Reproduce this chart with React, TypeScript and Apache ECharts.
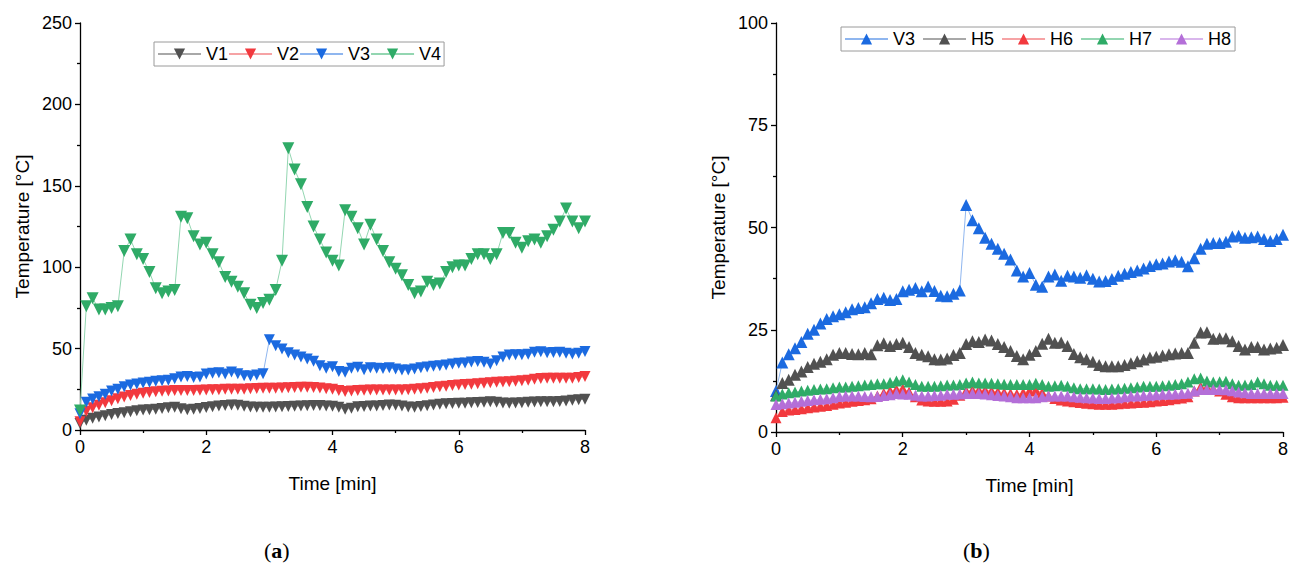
import React, { useEffect, useRef } from "react";
import * as echarts from "echarts";

const times = [
  0, 0.1, 0.2, 0.3, 0.4, 0.5, 0.6, 0.7, 0.8, 0.9,
  1, 1.1, 1.2, 1.3, 1.4, 1.5, 1.6, 1.7, 1.8, 1.9,
  2, 2.1, 2.2, 2.3, 2.4, 2.5, 2.6, 2.7, 2.8, 2.9,
  3, 3.1, 3.2, 3.3, 3.4, 3.5, 3.6, 3.7, 3.8, 3.9,
  4, 4.1, 4.2, 4.3, 4.4, 4.5, 4.6, 4.7, 4.8, 4.9,
  5, 5.1, 5.2, 5.3, 5.4, 5.5, 5.6, 5.7, 5.8, 5.9,
  6, 6.1, 6.2, 6.3, 6.4, 6.5, 6.6, 6.7, 6.8, 6.9,
  7, 7.1, 7.2, 7.3, 7.4, 7.5, 7.6, 7.7, 7.8, 7.9,
  8,
];

const V1 = [
  4, 6, 7.2, 8, 8.8, 9.5, 10.1, 10.6, 11.2, 11.8,
  12.3, 12.5, 12.7, 13.2, 13.6, 14, 13, 12.4, 12.8, 13.2,
  13.8, 14.3, 14.8, 15.1, 15.4, 15.2, 14.6, 14.1, 14, 14,
  14, 14.1, 14.3, 14.5, 14.6, 14.8, 14.9, 15, 15, 14.8,
  14.6, 14, 12.7, 13.4, 14.3, 14.5, 14.7, 14.8, 15.1, 15.3,
  15.2, 14.8, 14.2, 14, 14.5, 14.9, 15.3, 15.8, 16.1, 16.3,
  16.4, 16.5, 16.7, 16.9, 17.1, 17.3, 17.1, 16.6, 16.4, 16.6,
  16.8, 17, 17.2, 17.4, 17.4, 17.4, 17.5, 17.8, 18.2, 18.6,
  18.9,
];

const V2 = [
  5, 11.5, 13.6, 15.2, 16.8, 18, 19.2, 20.3, 21.2, 22,
  22.6, 23, 23.5, 23.8, 24, 24.2, 24.2, 24.2, 24.3, 24.4,
  24.6, 24.7, 24.8, 25, 25, 25, 25.1, 25.3, 25.5, 25.6,
  25.6, 25.6, 25.8, 26, 26.1, 26.2, 26.3, 26.1, 25.8, 25.4,
  25, 24.2, 23.6, 24, 24.2, 24.4, 24.6, 24.6, 24.6, 24.6,
  24.6, 24.6, 24.7, 25, 25.3, 25.7, 26.1, 26.5, 26.9, 27.3,
  27.7, 27.9, 28.1, 28.4, 28.7, 29, 29.3, 29.5, 29.7, 30,
  30.3, 30.6, 31.1, 31.7, 31.8, 31.8, 31.8, 31.8, 31.8, 32.2,
  32.8,
];

const V3 = [
  10, 17, 19, 20.5, 22, 24, 25, 26.5, 27.6, 28.3,
  28.8, 29.3, 30, 30.3, 30.5, 31.5, 32.5, 32.8, 32.3, 32.5,
  34.4, 34.8, 35.2, 34.4, 35.6, 34.5, 33.3, 33.2, 33.8, 34.6,
  55.5, 51.8, 49.8, 47.5, 46, 44.8, 43.6, 42.2, 39.5, 38,
  38.9, 36, 35.5, 38, 38.5, 37, 38.2, 38, 37.7, 38.3,
  37.5, 36.8, 36.9, 37.4, 38.2, 38.7, 39.1, 39.5, 40, 40.6,
  41, 41.2, 41.7, 42, 41.6, 40.5, 42.5, 44.8, 46, 46.2,
  46.2, 46.5, 47.8, 48, 47.5, 47.6, 47.8, 47.2, 46.7, 47.2,
  48.2,
];

const V4 = [
  12, 76, 81, 74, 74, 75, 76, 110, 117, 108,
  105, 97, 87, 84, 85, 86, 131, 130, 119, 114,
  115, 108, 103, 94, 91, 88, 84, 77, 75, 78,
  80, 86, 104, 173, 160, 151, 137, 125, 117, 109,
  104, 101, 135, 131, 124, 114, 126, 117, 110, 103,
  99, 95, 89, 84, 85, 91, 89, 90, 97, 100,
  101, 101, 105, 108, 108, 105, 108, 121, 121, 115,
  112, 116, 117, 115, 119, 123, 128, 136, 128, 124,
  128,
];

const H5 = [
  9, 12, 12.8, 14, 14.8, 15.9, 16.7, 17.2, 17.8, 18.9,
  19.3, 19.3, 19.1, 19, 19.3, 19, 21.2, 21.7, 21, 21.5,
  21.8, 20.8, 19.3, 18.9, 18.5, 17.8, 17.7, 18, 18.8, 19.3,
  21.5, 22.2, 22, 22.6, 22.4, 21.5, 20.8, 19.8, 18.6, 17.8,
  18.9, 19.8, 21.6, 22.8, 21.8, 21.9, 21, 19.1, 18.3, 17.8,
  17.2, 16.4, 16.1, 16.1, 16.1, 16.4, 16.8, 17.3, 17.7, 18.2,
  18.4, 18.7, 19, 19.2, 19.3, 19.3, 21.8, 24.3, 24.4, 22.8,
  22.9, 22.9, 22.2, 21, 20.2, 20.8, 20.8, 20.2, 20.4, 20.6,
  21.3,
];

const H6 = [
  3.5, 5, 5.4, 5.5, 5.7, 5.9, 6.1, 6.3, 6.5, 6.8,
  7.1, 7.3, 7.5, 7.7, 7.9, 8.1, 8.8, 9.5, 10, 10.4,
  10.6, 9.8, 8.6, 7.8, 7.6, 7.5, 7.5, 7.6, 8, 9,
  10, 10.2, 10.2, 10.2, 10, 9.8, 9.6, 9.4, 9.2, 9.6,
  10, 10.2, 9.6, 8.8, 8.2, 7.8, 7.6, 7.4, 7.2, 7,
  6.9, 6.8, 6.8, 6.8, 6.9, 7, 7.1, 7.2, 7.3, 7.4,
  7.6, 7.7, 7.9, 8.1, 8.3, 8.6, 10, 11, 10.8, 10.5,
  10, 9.2, 8.6, 8.4, 8.4, 8.4, 8.4, 8.4, 8.4, 8.4,
  8.5,
];

const H7 = [
  8.8, 9.3, 9.6, 9.8, 10, 10.2, 10.4, 10.5, 10.6, 10.8,
  11, 11, 11.2, 11.3, 11.5, 11.6, 11.8, 11.8, 12.1, 12.5,
  12.8, 12.2, 11.6, 11.2, 11.2, 11.2, 11.3, 11.5, 11.5, 11.6,
  12, 12.2, 12, 12, 11.9, 11.8, 11.7, 11.6, 11.6, 11.6,
  11.6, 11.9, 11.6, 11.2, 11.3, 11.4, 11.2, 10.8, 10.6, 10.6,
  10.6, 10.5, 10.4, 10.5, 10.6, 10.7, 10.8, 11, 11.2, 11.2,
  11.2, 11.3, 11.4, 11.6, 11.8, 12.2, 13, 13.2, 12.5, 12.2,
  12.3, 12.4, 11.8, 11.4, 11.5, 11.6, 12.2, 11.8, 11.4, 11.4,
  11.4,
];

const H8 = [
  6.7, 6.9, 7.1, 7.3, 7.5, 7.7, 7.9, 8, 8.1, 8.4,
  8.7, 8.8, 8.8, 8.8, 8.7, 8.6, 8.7, 8.9, 9.1, 9.4,
  9.3, 9.2, 9, 8.8, 8.8, 8.9, 9, 9.2, 9.2, 9.3,
  9.4, 9.4, 9.4, 9.3, 9.1, 8.9, 8.8, 8.6, 8.4, 8.4,
  8.4, 8.4, 8.6, 8.8, 8.8, 8.8, 8.8, 8.6, 8.5, 8.4,
  8.3, 8.2, 8.2, 8.3, 8.4, 8.6, 8.8, 8.8, 8.9, 9,
  9.1, 9.2, 9.2, 9.3, 9.4, 9.5, 10, 10.4, 10.4, 10.4,
  10.4, 10.3, 10.1, 9.8, 9.6, 9.4, 9.4, 9.4, 9.4, 9.4,
  9.4,
];

const leftLegend = ["V1", "V2", "V3", "V4"];
const rightLegend = ["V3b", "H5", "H6", "H7", "H8"];
const xTicks = { min: 0, max: 8, interval: 2 };

const FONT = "'Liberation Sans', Arial, sans-serif";

const COLORS: Record<string, [string, string]> = {
  gray: ["#515151", "#a8a8a8"],
  red: ["#f2393e", "#f6a3a5"],
  blue: ["#1b6ae0", "#8fb6ef"],
  green: ["#2fab67", "#93d6b1"],
  purple: ["#b46fd8", "#d9b6ec"],
};

function mk(name: string, vals: number[], c: string, down: boolean, gi: number, size: number) {
  const [fill, line] = COLORS[c];
  return {
    type: "line",
    name,
    xAxisIndex: gi,
    yAxisIndex: gi,
    data: times.map((t, i) => [t, vals[i]]),
    symbol: "triangle",
    symbolSize: size,
    symbolRotate: down ? 180 : 0,
    showAllSymbol: true,
    itemStyle: { color: fill },
    lineStyle: { color: line, width: 1 },
    emphasis: { disabled: true },
    silent: true,
  };
}

function xAxis(gi: number) {
  return {
    type: "value",
    gridIndex: gi,
    ...xTicks,
    name: "Time [min]",
    nameLocation: "middle",
    nameGap: 44,
    nameTextStyle: { fontSize: 19, color: "#000", fontFamily: FONT },
    axisLine: { show: true, lineStyle: { color: "#000", width: 1.3 } },
    axisTick: { show: true, length: 5, lineStyle: { color: "#000", width: 1.3 } },
    minorTick: { show: true, splitNumber: 2, length: 3, lineStyle: { color: "#000", width: 1.3 } },
    axisLabel: { fontSize: 18, color: "#000", fontFamily: FONT, margin: 8 },
    splitLine: { show: false },
  };
}

function yAxis(gi: number, max: number, interval: number) {
  return {
    type: "value",
    gridIndex: gi,
    min: 0,
    max,
    interval,
    name: "Temperature [°C]",
    nameLocation: "middle",
    nameGap: 48,
    nameTextStyle: { fontSize: 19, color: "#000", fontFamily: FONT },
    axisLine: { show: true, lineStyle: { color: "#000", width: 1.3 } },
    axisTick: { show: true, length: 5, lineStyle: { color: "#000", width: 1.3 } },
    minorTick: { show: true, splitNumber: 2, length: 3, lineStyle: { color: "#000", width: 1.3 } },
    axisLabel: { fontSize: 18, color: "#000", fontFamily: FONT, margin: 8 },
    splitLine: { show: false },
  };
}

const legendBase = {
  orient: "horizontal",
  itemWidth: 43,
  itemHeight: 14,
  borderColor: "#9a9a9a",
  borderWidth: 1,
  borderRadius: 0,
  textStyle: { fontSize: 18, color: "#000", fontFamily: FONT },
  selectedMode: false,
};

const labelStyle = (letter: string) => ({
  text: `({b|${letter}})`,
  font: "22px 'Liberation Serif', serif",
  fill: "#000",
  rich: { b: { fontWeight: "bold", fontSize: 22, fontFamily: "'Liberation Serif', serif" } },
});

export default function App() {
  const ref = useRef<HTMLDivElement>(null);
  useEffect(() => {
    const chart = echarts.init(ref.current!, null, { renderer: "svg" });
    const option = {
      animation: false,
      backgroundColor: "#fff",
      grid: [
        { left: 80, top: 23, width: 505, height: 407 },
        { left: 776, top: 23, width: 510, height: 409 },
      ],
      xAxis: [xAxis(0), xAxis(1)],
      yAxis: [yAxis(0, 250, 50), yAxis(1, 100, 25)],
      legend: [
        { ...legendBase, data: leftLegend, left: 154, top: 42, itemGap: 0, padding: [3, 3, 3, 3] },
        {
          ...legendBase,
          data: rightLegend,
          formatter: (n: string) => (n === "V3b" ? "V3" : n),
          left: 841,
          top: 27,
          itemGap: 7,
          padding: [3, 4, 3, 3],
        },
      ],
      series: [
        mk("V1", V1, "gray", true, 0, 11),
        mk("V2", V2, "red", true, 0, 11),
        mk("V3", V3, "blue", true, 0, 11),
        mk("V4", V4, "green", true, 0, 12),
        mk("V3b", V3, "blue", false, 1, 12),
        mk("H5", H5, "gray", false, 1, 12),
        mk("H6", H6, "red", false, 1, 11),
        mk("H7", H7, "green", false, 1, 11),
        mk("H8", H8, "purple", false, 1, 11),
      ],
      graphic: [
        { type: "text", left: 264, top: 539, style: labelStyle("a") },
        { type: "text", left: 963, top: 539, style: labelStyle("b") },
      ],
    };
    chart.setOption(option as any);
    return () => chart.dispose();
  }, []);
  return (
    <div
      ref={ref}
      style={{ position: "absolute", left: 0, top: 0, width: 1291, height: 563, background: "#fff" }}
    />
  );
}
